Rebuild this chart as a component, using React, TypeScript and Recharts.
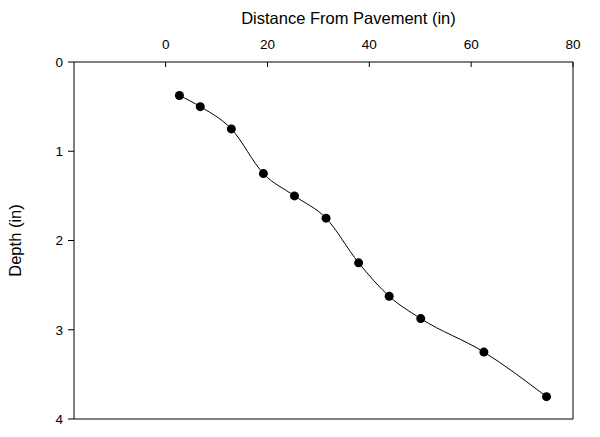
import { LineChart, Line, XAxis, YAxis, ReferenceLine } from "recharts";

const distance = [2.7, 6.8, 12.9, 19.2, 25.3, 31.5, 37.9, 43.9, 50.1, 62.5, 74.8];
const depth = [0.375, 0.5, 0.75, 1.25, 1.5, 1.75, 2.25, 2.625, 2.875, 3.25, 3.75];
const xTicks = [0, 20, 40, 60, 80];
const yTicks = [0, 1, 2, 3, 4];

const data = distance.map((d, i) => ({ distance: d, depth: depth[i] }));

const font = "'Liberation Sans', Arial, sans-serif";

const App = () => {
  return (
    <div style={{ position: "absolute", left: 0, top: 0 }}>
      <LineChart
        width={600}
        height={437}
        data={data}
        margin={{ top: 12, right: 27, left: 14, bottom: 18 }}
        style={{ fontFamily: font }}
      >
        <XAxis
          xAxisId="top"
          type="number"
          dataKey="distance"
          orientation="top"
          domain={[-18, 80]}
          ticks={xTicks}
          allowDataOverflow
          height={50}
          stroke="#000"
          tickSize={-5}
          tickMargin={18}
          tick={{ fill: "#000", fontSize: 13.5 }}
          label={{
            value: "Distance From Pavement (in)",
            position: "insideTop",
            offset: 0,
            dx: 25,
            fill: "#000",
            fontSize: 16.5,
          }}
        />
        <YAxis
          yAxisId="left"
          type="number"
          dataKey="depth"
          domain={[0, 4]}
          ticks={yTicks}
          reversed
          allowDataOverflow
          width={60}
          stroke="#000"
          tickSize={6}
          tickMargin={5}
          tick={{ fill: "#000", fontSize: 13.5 }}
          label={{
            value: "Depth (in)",
            angle: -90,
            position: "insideLeft",
            offset: 0,
            dx: 1,
            fill: "#000",
            fontSize: 16.5,
            style: { textAnchor: "middle" },
          }}
        />
        <ReferenceLine xAxisId="top" yAxisId="left" y={4} stroke="#000" strokeWidth={1} />
        <ReferenceLine xAxisId="top" yAxisId="left" x={80} stroke="#000" strokeWidth={1} />
        <Line
          xAxisId="top"
          yAxisId="left"
          type="monotone"
          dataKey="depth"
          stroke="#000"
          strokeWidth={1}
          dot={{ r: 4.5, fill: "#000", stroke: "#000", strokeWidth: 0 }}
          isAnimationActive={false}
        />
      </LineChart>
    </div>
  );
};

export default App;
